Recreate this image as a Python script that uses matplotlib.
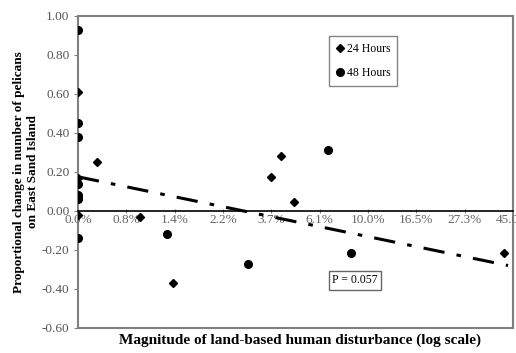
import matplotlib
matplotlib.use('Agg')
import matplotlib.pyplot as plt
from matplotlib.patches import Rectangle

plt.rcParams['font.family'] = ['Liberation Serif', 'DejaVu Serif']

# x tick labels (disturbance, log scale), one per unit step
tick_labels = ['0.0%', '0.8%', '1.4%', '2.2%', '3.7%', '6.1%', '10.0%', '16.5%', '27.3%', '45.0%']

# 24 hour counts (diamonds)
x24 = [0, 0, 0, 0, 0.39, 1.28, 1.96, 3.99, 4.21, 4.48, 8.82]
y24 = [0.61, 0.17, 0.07, -0.02, 0.25, -0.03, -0.37, 0.175, 0.28, 0.045, -0.215]

# 48 hour counts (circles)
x48 = [0, 0, 0, 0, 0, 0, 0, 1.84, 3.51, 5.17, 5.66]
y48 = [0.93, 0.45, 0.38, 0.14, 0.08, 0.06, -0.14, -0.12, -0.27, 0.31, -0.215]

# regression line end points
trend_x = [0, 8.9]
trend_y = [0.175, -0.28]

fig = plt.figure(figsize=(5.16, 3.53), dpi=100)
ax = fig.add_axes([0.151, 0.071, 0.843, 0.884])

ax.plot(x24, y24, linestyle='none', marker='D', markersize=4, color='black', label='24 Hours')
ax.plot(x48, y48, linestyle='none', marker='o', markersize=5.5, color='black', label='48 Hours')
ax.plot(trend_x, trend_y, color='black', linewidth=2.2, dashes=[7, 4, 1.5, 4])

ax.set_xlim(0, 9)
ax.set_ylim(-0.6, 1.0)

ax.set_yticks([-0.6, -0.4, -0.2, 0.0, 0.2, 0.4, 0.6, 0.8, 1.0])
ax.set_yticklabels(['%.2f' % v for v in ax.get_yticks()])
ax.set_xticks(range(len(tick_labels)))
ax.set_xticklabels(tick_labels)

# x axis runs through zero, frame drawn separately
for side in ['top', 'right', 'left']:
    ax.spines[side].set_visible(False)
ax.spines['bottom'].set_position(('data', 0))
ax.spines['bottom'].set_color('black')
ax.spines['bottom'].set_linewidth(1.2)
ax.add_patch(Rectangle((0, 0), 1, 1, transform=ax.transAxes, fill=False,
                       edgecolor='#808080', linewidth=1.5, clip_on=False, zorder=0))

ax.tick_params(axis='y', direction='out', length=3, color='#808080', labelsize=9.5, labelcolor='#555555', pad=3)
ax.tick_params(axis='x', direction='inout', length=3, color='#808080', labelsize=9.5, labelcolor='#666666', pad=1)

ax.set_ylabel('Proportional change in number of pelicans\non East Sand Island',
              fontsize=9.5, fontweight='bold', linespacing=1.25, labelpad=2)
ax.set_xlabel('Magnitude of land-based human disturbance (log scale)',
              fontsize=11, fontweight='bold', va='center')
ax.xaxis.set_label_coords(0.51, -0.04)

leg = ax.legend(loc='upper left', bbox_to_anchor=(0.577, 0.935), fontsize=8.5, frameon=True,
                fancybox=False, edgecolor='#666666', handlelength=0.6, handletextpad=0.3,
                borderpad=0.6, labelspacing=1.0, borderaxespad=0)
leg.get_frame().set_linewidth(1.0)

ax.text(0.637, -0.355, 'P = 0.057', transform=ax.get_yaxis_transform(), fontsize=8.5,
        ha='center', va='center',
        bbox=dict(boxstyle='square,pad=0.3', facecolor='white', edgecolor='#666666', linewidth=1.0))

fig.savefig('out.png', dpi=100)
